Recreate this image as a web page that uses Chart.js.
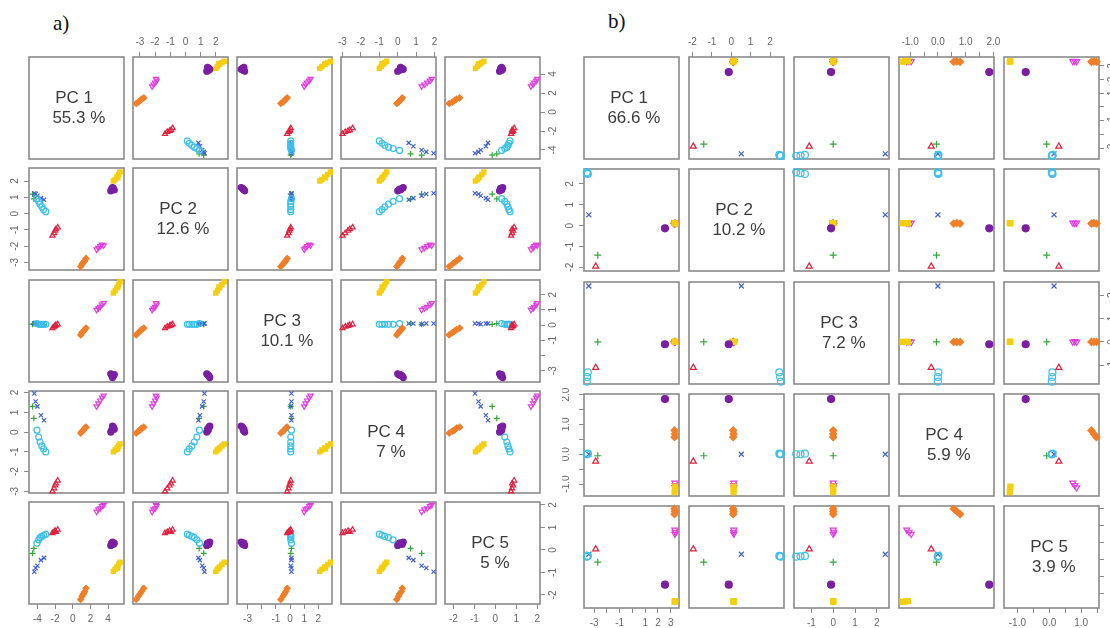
<!DOCTYPE html>
<html><head><meta charset="utf-8">
<script src="https://cdn.jsdelivr.net/npm/chart.js@4.4.1/dist/chart.umd.min.js"></script>
<style>
html,body{margin:0;padding:0;background:#fff;width:1110px;height:628px;overflow:hidden;position:relative;font-family:"Liberation Sans",Arial,sans-serif}
canvas{position:absolute}
.diag{position:absolute;box-sizing:border-box;display:flex;flex-direction:column;align-items:center;justify-content:center;color:#3c3c3c;font-size:17px;line-height:20px;white-space:pre;z-index:5}
.lab{position:absolute;font-family:"Liberation Serif","Times New Roman",serif;font-size:21px;color:#111}
</style></head><body>
<div class="lab" style="left:53px;top:11px">a)</div>
<div class="lab" style="left:608px;top:9px">b)</div>
<script>
// ---------------- DATA ----------------
const PC_NAMES = ['PC 1', 'PC 2', 'PC 3', 'PC 4', 'PC 5'];

// Plot a) : explained variance and scores
const A_VAR = ['55.3 %', '12.6 %', '10.1 %', '7 %', '5 %'];
const A_GROUP = ['purple','purple','purple','purple','purple',
  'yellow','yellow','yellow','yellow','yellow','yellow',
  'magenta','magenta','magenta','magenta','magenta',
  'orange','orange','orange','orange','orange',
  'red','red','red','red','red',
  'cyan','cyan','cyan','cyan','cyan','cyan',
  'blue','blue','blue','blue','blue',
  'green','green'];
const A_PC1 = [4.3, 4.4, 4.5, 4.6, 4.7,
  4.6, 4.8, 5.0, 5.2, 5.35, 5.1,
  2.7, 2.9, 3.1, 3.3, 3.5,
  0.9, 1.05, 1.2, 1.35, 1.5,
  -2.3, -2.1, -2.0, -1.9, -1.7,
  -3.05, -3.3, -3.5, -3.7, -3.85, -4.05,
  -4.35, -4.2, -4.0, -3.6, -3.25,
  -4.55, -4.4];
const A_PC2 = [1.4, 1.5, 1.6, 1.55, 1.45,
  2.0, 2.1, 2.25, 2.4, 2.55, 2.2,
  -2.2, -2.1, -2.0, -1.9, -1.95,
  -3.25, -3.1, -3.0, -2.9, -2.75,
  -1.35, -1.2, -1.05, -0.95, -0.85,
  0.12, 0.25, 0.42, 0.58, 0.75, 0.92,
  1.25, 1.2, 1.1, 0.95, 0.85,
  1.2, 0.9];
const A_PC3 = [-3.2, -3.3, -3.45, -3.35, -3.25,
  2.1, 2.25, 2.45, 2.65, 2.85, 2.5,
  1.0, 1.1, 1.2, 1.35, 1.45,
  -0.65, -0.5, -0.4, -0.3, -0.2,
  -0.2, -0.1, -0.05, 0.0, 0.05,
  0.05, 0.05, 0.05, 0.05, 0.05, 0.1,
  0.1, 0.1, 0.05, 0.1, 0.1,
  0.05, 0.1];
const A_PC4 = [0.0, 0.1, 0.3, 0.25, 0.15,
  -1.0, -0.9, -0.8, -0.7, -0.6, -0.85,
  1.3, 1.45, 1.6, 1.75, 1.85,
  -0.05, 0.05, 0.1, 0.2, 0.25,
  -3.0, -2.85, -2.7, -2.6, -2.45,
  -1.0, -0.85, -0.7, -0.5, -0.25, 0.1,
  1.95, 1.55, 1.3, 0.85, 0.6,
  1.3, 0.7];
const A_PC5 = [0.2, 0.3, 0.35, 0.25, 0.3,
  -0.95, -0.85, -0.75, -0.65, -0.55, -0.8,
  1.7, 1.8, 1.85, 1.95, 2.0,
  -2.2, -2.05, -1.95, -1.85, -1.7,
  0.75, 0.8, 0.85, 0.8, 0.9,
  0.7, 0.65, 0.6, 0.55, 0.45, 0.3,
  -0.97, -0.8, -0.7, -0.45, -0.35,
  -0.15, 0.07];
const A_MIN = [-4.95, -3.46, -3.74, -3.08, -2.4];
const A_MAX = [5.8, 2.8, 2.96, 2.08, 2.13];
const A_TICKS = [[-4,-2,0,2,4], [-3,-2,-1,0,1,2], [-3,-2,-1,0,1,2], [-3,-2,-1,0,1,2], [-2,-1,0,1,2]];
const A_TICK_LABELS = [['-4','-2','0','2','4'], ['-3','-2','-1','0','1','2'], ['-3','','-1','0','1','2'], ['-3','-2','-1','0','1','2'], ['-2','-1','0','1','2']];

// Plot b)
const B_VAR = ['66.6 %', '10.2 %', '7.2 %', '5.9 %', '3.9 %'];
const B_GROUP = ['purple',
  'yellow','yellow','yellow',
  'magenta','magenta','magenta',
  'orange','orange','orange',
  'red','green','blue',
  'cyan','cyan','cyan'];
const B_PC1 = [2.55, 3.3, 3.35, 3.35, 3.33, 3.35, 3.33, 3.3, 3.33, 3.3, -2.88, -2.72, -3.42, -3.58, -3.55, -3.5];
const B_PC2 = [-0.13, 0.12, 0.12, 0.12, 0.13, 0.12, 0.13, 0.1, 0.12, 0.1, -1.96, -1.42, 0.52, 2.56, 2.52, 2.48];
const B_PC3 = [-0.1, 0.0, 0.0, 0.0, 0.0, 0.02, 0.0, 0.0, 0.0, 0.0, -1.1, 0.0, 2.39, -1.7, -1.5, -1.3];
const B_PC4 = [1.85, -1.27, -1.18, -1.08, -1.12, -1.04, -0.96, 0.57, 0.68, 0.8, -0.24, -0.05, 0.0, 0.0, 0.0, 0.02];
const B_PC5 = [-0.74, -1.24, -1.23, -1.22, 0.86, 0.8, 0.74, 1.48, 1.4, 1.32, 0.3, -0.08, 0.15, 0.08, 0.09, 0.1];
const B_MIN = [-3.8, -2.18, -1.8, -1.4, -1.42];
const B_MAX = [3.65, 2.72, 2.56, 2.02, 1.56];
const B_TICKS = [[-3,-2,-1,0,1,2,3], [-2,-1,0,1,2], [-1,0,1,2], [-1,-0.5,0,0.5,1,1.5,2], [-1,-0.5,0,0.5,1,1.5]];
const B_TICK_LABELS = [['-3','','-1','','1','2','3'], ['-2','-1','0','1','2'], ['-1','0','1','2'], ['-1.0','','0.0','','1.0','','2.0'], ['-1.0','','0.0','','1.0','']];

// ---------------- STYLE ----------------
const GROUPS = ['purple','yellow','magenta','orange','red','cyan','blue','green'];
const G_COLOR = ['#7a1fa2','#f4cf10','#e03ee0','#f07f2a','#e0213f','#3cc0ea','#3f5fd6','#35a83a'];
const G_SHAPE = ['circle','rect','triangle','rectRot','triangle','circle','crossRot','cross'];
const G_FILL = [true, true, false, true, false, false, false, false];
const G_ROT = [0, 0, 180, 0, 0, 0, 0, 0];

Chart.defaults.font.family = "'Liberation Sans', Arial, sans-serif";
const AX = 22, PAD = 6;

const boxPlugin = {
  id: 'box',
  beforeDatasetsDraw(chart) {
    const {ctx, chartArea: a} = chart;
    ctx.save();
    ctx.strokeStyle = '#8a8a8a';
    ctx.lineWidth = 1.6;
    ctx.strokeRect(a.left, a.top, a.right - a.left, a.bottom - a.top);
    ctx.restore();
  }
};

function axis(P, pc, position, show, isY) {
  const cfg = {
    type: 'linear', position: position, display: show,
    min: P.min[pc], max: P.max[pc],
    afterBuildTicks: s => { s.ticks = P.ticks[pc].map(v => ({value: v})); },
    grid: {drawOnChartArea: false, drawTicks: true, tickLength: 5, color: '#8a8a8a', lineWidth: 1},
    border: {display: false},
    ticks: {
      autoSkip: false, padding: 4, color: '#666', font: {size: 10},
      minRotation: isY ? 90 : 0, maxRotation: isY ? 90 : 0,
      crossAlign: isY ? 'center' : 'near',
      callback: (v, idx) => P.labels[pc][idx]
    }
  };
  if (show) {
    cfg.afterFit = s => {
      if (isY) s.width = AX; else s.height = AX;
      s.paddingLeft = 0; s.paddingRight = 0; s.paddingTop = 0; s.paddingBottom = 0;
    };
  }
  return cfg;
}

function buildPlot(P) {
  for (let i = 0; i < 5; i++) {
    for (let j = 0; j < 5; j++) {
      const hasTop = i === 0 && j % 2 === 1;
      const hasBottom = i === 4 && j % 2 === 0;
      const hasLeft = j === 0 && i % 2 === 1;
      const hasRight = j === 4 && i % 2 === 0;
      const bx = P.x0 + j * P.dx, by = Math.round(P.y0 + i * P.dy);
      const left = bx - PAD - (hasLeft ? AX : 0);
      const top = by - PAD - (hasTop ? AX : 0);
      const W = P.w + 2 * PAD + (hasLeft ? AX : 0) + (hasRight ? AX : 0);
      const H = P.h + 2 * PAD + (hasTop ? AX : 0) + (hasBottom ? AX : 0);
      const cv = document.createElement('canvas');
      cv.width = W; cv.height = H;
      cv.style.left = left + 'px'; cv.style.top = top + 'px';
      cv.style.width = W + 'px'; cv.style.height = H + 'px';
      document.body.appendChild(cv);
      const datasets = [];
      if (i !== j) {
        GROUPS.forEach((g, k) => {
          const idx = [];
          P.group.forEach((gg, n) => { if (gg === g) idx.push(n); });
          if (!idx.length) return;
          datasets.push({
            data: idx.map(n => ({x: P.pcs[j][n], y: P.pcs[i][n]})),
            pointStyle: G_SHAPE[k], pointRotation: G_ROT[k], pointRadius: P.r,
            borderColor: G_COLOR[k],
            backgroundColor: G_FILL[k] ? G_COLOR[k] : 'rgba(0,0,0,0)',
            borderWidth: 1.2, showLine: false, clip: 8
          });
        });
      }
      new Chart(cv, {
        type: 'scatter',
        data: {datasets: datasets},
        options: {
          responsive: false, animation: false, events: [], devicePixelRatio: 1,
          layout: {padding: PAD},
          plugins: {legend: {display: false}, tooltip: {enabled: false}},
          scales: {
            x: axis(P, j, hasTop ? 'top' : 'bottom', hasTop || hasBottom, false),
            y: axis(P, i, hasLeft ? 'left' : 'right', hasLeft || hasRight, true)
          }
        },
        plugins: [boxPlugin]
      });
      if (i === j) {
        const d = document.createElement('div');
        d.className = 'diag';
        d.style.left = bx + 'px'; d.style.top = by + 'px';
        d.style.width = P.w + 'px'; d.style.height = P.h + 'px';
        const l1 = document.createElement('div'); l1.textContent = PC_NAMES[i] + ' ';
        const l2 = document.createElement('div'); l2.textContent = ' ' + P.variance[i];
        d.appendChild(l1); d.appendChild(l2);
        document.body.appendChild(d);
      }
    }
  }
}

buildPlot({x0: 29, dx: 104, y0: 57, dy: 111.25, w: 95, h: 102, r: 3,
  pcs: [A_PC1, A_PC2, A_PC3, A_PC4, A_PC5], group: A_GROUP, variance: A_VAR,
  min: A_MIN, max: A_MAX, ticks: A_TICKS, labels: A_TICK_LABELS});
buildPlot({x0: 584, dx: 105, y0: 57, dy: 112.25, w: 95, h: 102, r: 3.5,
  pcs: [B_PC1, B_PC2, B_PC3, B_PC4, B_PC5], group: B_GROUP, variance: B_VAR,
  min: B_MIN, max: B_MAX, ticks: B_TICKS, labels: B_TICK_LABELS});
</script>
</body></html>
